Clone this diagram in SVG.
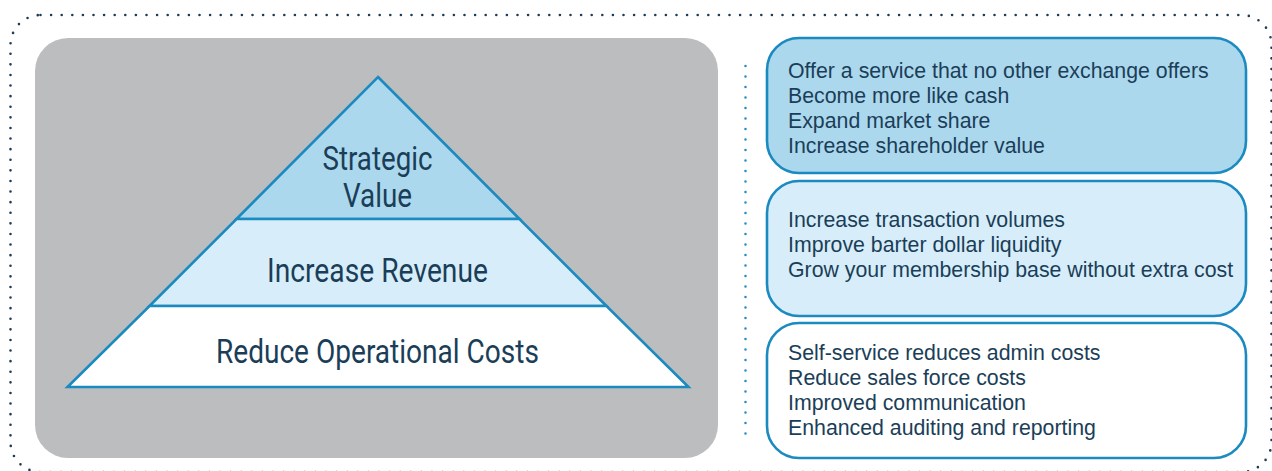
<svg xmlns="http://www.w3.org/2000/svg" width="1272" height="471" viewBox="0 0 1272 471">
<style>
.dots{fill:none;stroke:#1d3c55;stroke-width:2.6;stroke-linecap:round;stroke-dasharray:0 10.6}
.sep{fill:none;stroke:#2a8fc4;stroke-width:2.6;stroke-linecap:round;stroke-dasharray:0 10.5}
.tier{stroke:#1a8ac0;stroke-width:2.6;stroke-linejoin:miter}
.box{stroke:#1a8ac0;stroke-width:2.6}
.pt{font-family:Roboto,"Liberation Sans",sans-serif;font-size:32.5px;fill:#1b3e58;text-anchor:middle}
.bt{font-family:"Liberation Sans",Arial,Helvetica,sans-serif;font-size:21.3px;fill:#1b3e58}
</style>
<rect width="1272" height="471" fill="#ffffff"/>
<g id="frame">
<rect class="dots" x="10.5" y="15" width="1261" height="457" rx="30" ry="30"/>
</g>
<g id="panel">
<rect x="35" y="38" width="683" height="420" rx="33" ry="33" fill="#bcbdbf"/>
</g>
<g id="pyramid">
<g id="tier-strategic">
<polygon class="tier" points="378,77 519.5,219 236.5,219" fill="#acd8ee"/>
<text class="pt" x="377.5" y="170" textLength="110" lengthAdjust="spacingAndGlyphs">Strategic</text>
<text class="pt" x="377.5" y="207" textLength="69" lengthAdjust="spacingAndGlyphs">Value</text>
</g>
<g id="tier-revenue">
<polygon class="tier" points="236.5,219 519.5,219 606.5,306 149.5,306" fill="#d7eefa"/>
<text class="pt" x="377.5" y="282" textLength="221" lengthAdjust="spacingAndGlyphs">Increase Revenue</text>
</g>
<g id="tier-costs">
<polygon class="tier" points="149.5,306 606.5,306 688.5,387 67.5,387" fill="#ffffff"/>
<text class="pt" x="377.5" y="363" textLength="323" lengthAdjust="spacingAndGlyphs">Reduce Operational Costs</text>
</g>
</g>
<g id="connectors">
<line class="sep" x1="745.5" y1="66" x2="745.5" y2="437"/>
</g>
<g id="box-strategic">
<rect class="box" x="767" y="38" width="479" height="135" rx="32" ry="32" fill="#acd8ee"/>
<text class="bt" x="788" y="77.5">Offer a service that no other exchange offers</text>
<text class="bt" x="788" y="102.8">Become more like cash</text>
<text class="bt" x="788" y="128.1">Expand market share</text>
<text class="bt" x="788" y="153.4">Increase shareholder value</text>
</g>
<g id="box-revenue">
<rect class="box" x="767" y="181" width="479" height="135" rx="32" ry="32" fill="#d7eefa"/>
<text class="bt" x="788" y="226.5">Increase transaction volumes</text>
<text class="bt" x="788" y="251.8">Improve barter dollar liquidity</text>
<text class="bt" x="788" y="277.1">Grow your membership base without extra cost</text>
</g>
<g id="box-costs">
<rect class="box" x="767" y="323" width="479" height="135" rx="32" ry="32" fill="#ffffff"/>
<text class="bt" x="788" y="359.5">Self-service reduces admin costs</text>
<text class="bt" x="788" y="384.8">Reduce sales force costs</text>
<text class="bt" x="788" y="410.1">Improved communication</text>
<text class="bt" x="788" y="435.4">Enhanced auditing and reporting</text>
</g>
</svg>
